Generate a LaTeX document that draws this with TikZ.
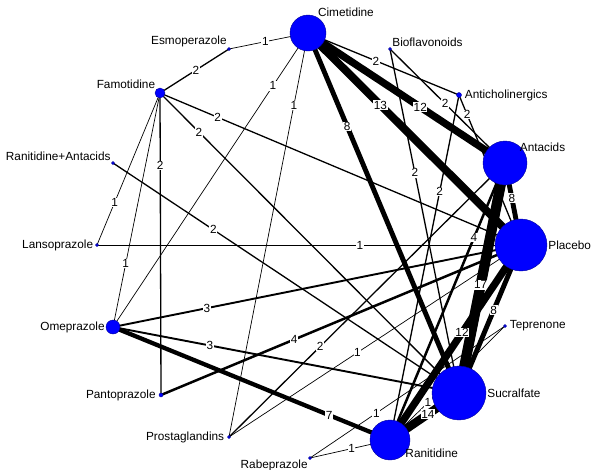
\documentclass[tikz,border=0pt]{standalone}
\usepackage{fontspec}
\setmainfont{Liberation Sans}
\tikzset{
 TreatStyle/.style = {circle, fill = blue, draw = blue!60!black, inner sep = 0pt},
 NameStyle/.style = {font = \fontsize{11.8}{13}\selectfont, inner sep = 1pt},
 CountStyle/.style = {fill = white, font = \fontsize{11.8}{13}\selectfont, inner sep = 0.6pt}
}
\begin{document}
\begin{tikzpicture}[x=1pt, y=-1pt]
\useasboundingbox (0,0) rectangle (600,469);
\coordinate (Cim) at (308,33);
\coordinate (Bio) at (390,49);
\coordinate (Ach) at (459,95);
\coordinate (Ant) at (505,163);
\coordinate (Pla) at (521,245);
\coordinate (Tep) at (505,326);
\coordinate (Suc) at (459,393);
\coordinate (Ran) at (390,440);
\coordinate (Rab) at (310,458);
\coordinate (Pro) at (229,437);
\coordinate (Pan) at (161,395);
\coordinate (Ome) at (113,327);
\coordinate (Lan) at (97,245);
\coordinate (RaA) at (113,163);
\coordinate (Fam) at (160,93);
\coordinate (Esm) at (229,49);

% edges: from/to/number of trials/label position
\foreach \a/\b/\n/\p in {Esm/Cim/1/.46, Fam/Esm/2/.52, Fam/Pla/2/.16, Fam/Suc/2/.13,
 Fam/Pan/2/.24, Fam/Lan/1/.72, Fam/Ome/1/.73, RaA/Suc/2/.29, Lan/Pla/1/.62,
 Cim/Ome/1/.18, Cim/Pro/1/.18, Ome/Pla/3/.23, Ome/Suc/3/.28, Ome/Ran/7/.78,
 Pan/Pla/4/.37, Pro/Ant/2/.33, Pro/Pla/1/.44, Rab/Ran/1/.52, Rab/Tep/1/.34,
 Ran/Tep/1/.33, Cim/Ant/12/.57, Cim/Pla/13/.34, Cim/Suc/8/.26, Cim/Ach/2/.45,
 Bio/Ant/2/.48, Bio/Suc/2/.36, Ach/Pla/2/.13, Ach/Ran/2/.28, Ant/Pla/8/.43,
 Ant/Suc/17/.53, Pla/Suc/8/.44, Pla/Ran/12/.45, Ran/Suc/14/.55, Ran/Ant/4/.73}
 \draw[line width=0.1pt+0.6*\n pt] (\a) -- node[CountStyle, pos=\p] {\n} (\b);

% treatments
\node[TreatStyle, minimum size=36pt] (CimN) at (Cim) {};
\node[TreatStyle, minimum size=3pt] (BioN) at (Bio) {};
\node[TreatStyle, minimum size=5pt] (AchN) at (Ach) {};
\node[TreatStyle, minimum size=44pt] (AntN) at (Ant) {};
\node[TreatStyle, minimum size=52pt] (PlaN) at (Pla) {};
\node[TreatStyle, minimum size=3pt] (TepN) at (Tep) {};
\node[TreatStyle, minimum size=54pt] (SucN) at (Suc) {};
\node[TreatStyle, minimum size=40pt] (RanN) at (Ran) {};
\node[TreatStyle, minimum size=3pt] (RabN) at (Rab) {};
\node[TreatStyle, minimum size=3pt] (ProN) at (Pro) {};
\node[TreatStyle, minimum size=4pt] (PanN) at (Pan) {};
\node[TreatStyle, minimum size=14pt] (OmeN) at (Ome) {};
\node[TreatStyle, minimum size=3pt] (LanN) at (Lan) {};
\node[TreatStyle, minimum size=3pt] (RaAN) at (RaA) {};
\node[TreatStyle, minimum size=10pt] (FamN) at (Fam) {};
\node[TreatStyle, minimum size=3pt] (EsmN) at (Esm) {};

\node[NameStyle, anchor=south west] at ([xshift=-4pt,yshift=2pt]CimN.north east) {Cimetidine};
\node[NameStyle, anchor=south west] at (BioN.north east) {Bioflavonoids};
\node[NameStyle, anchor=west] at ([xshift=2pt]AchN.east) {Anticholinergics};
\node[NameStyle, anchor=west] at ([xshift=-2pt]AntN.north east) {Antacids};
\node[NameStyle, anchor=west] at (PlaN.east) {Placebo};
\node[NameStyle, anchor=west] at ([xshift=2pt]TepN.east) {Teprenone};
\node[NameStyle, anchor=west] at (SucN.east) {Sucralfate};
\node[NameStyle, anchor=north west] at ([yshift=7pt]RanN.south east) {Ranitidine};
\node[NameStyle, anchor=north east] at (RabN.south west) {Rabeprazole};
\node[NameStyle, anchor=east] at ([xshift=-2pt]ProN.west) {Prostaglandins};
\node[NameStyle, anchor=east] at ([xshift=-2pt]PanN.west) {Pantoprazole};
\node[NameStyle, anchor=east] at (OmeN.west) {Omeprazole};
\node[NameStyle, anchor=east] at ([xshift=-1pt]LanN.west) {Lansoprazole};
\node[NameStyle, anchor=south east] at (RaAN.north west) {Ranitidine+Antacids};
\node[NameStyle, anchor=south east] at (FamN.north west) {Famotidine};
\node[NameStyle, anchor=south east] at (EsmN.north west) {Esmoperazole};
\end{tikzpicture}
\end{document}
